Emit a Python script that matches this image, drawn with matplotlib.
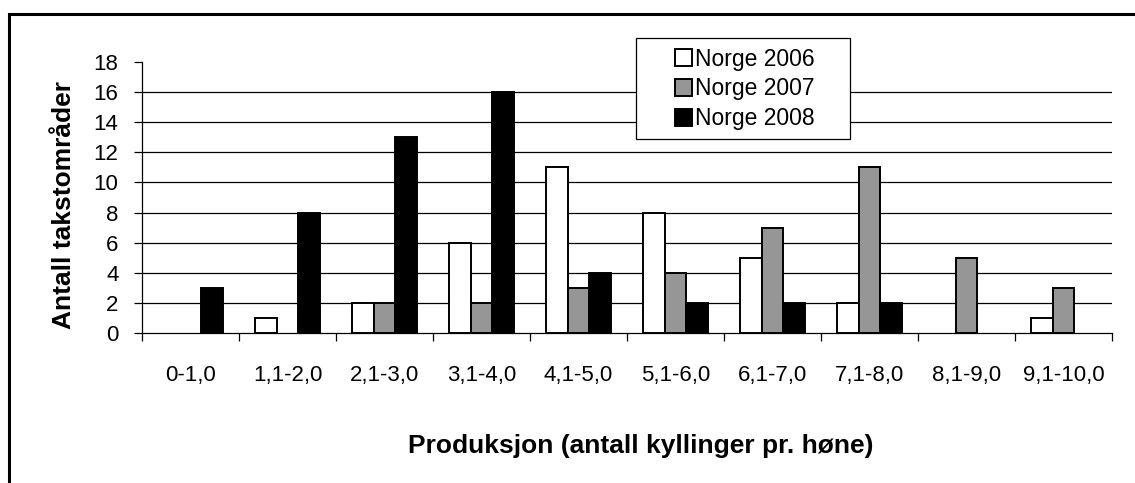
import numpy as np
import matplotlib.pyplot as plt
from matplotlib.patches import Rectangle

plt.rcParams['font.family'] = ['Liberation Sans', 'DejaVu Sans']

kategorier = ["0-1,0", "1,1-2,0", "2,1-3,0", "3,1-4,0", "4,1-5,0",
              "5,1-6,0", "6,1-7,0", "7,1-8,0", "8,1-9,0", "9,1-10,0"]
norge_2006 = [0, 1, 2, 6, 11, 8, 5, 2, 0, 1]
norge_2007 = [0, 0, 2, 2, 3, 4, 7, 11, 5, 3]
norge_2008 = [3, 8, 13, 16, 4, 2, 2, 2, 0, 0]
serier = ["Norge 2006", "Norge 2007", "Norge 2008"]
farger = ["white", "#969696", "black"]

W, H = 1135, 483
fig = plt.figure(figsize=(W / 100, H / 100), dpi=100)
fig.patch.set_facecolor('white')


def px(x, y):
    # pikselposisjon (fra øvre venstre hjørne) til figurkoordinater
    return x / W, 1 - y / H


# ytre ramme (går ut over høyre og nedre kant)
topp = 1 - 13.5 / H
fig.patches.append(Rectangle((8.5 / W, -0.2), 1.2, topp + 0.2,
                             transform=fig.transFigure, fill=False,
                             edgecolor='black', linewidth=2.2, zorder=0))

ax = fig.add_axes([142 / W, 1 - 333 / H, (1112 - 142) / W, (333 - 62) / H])

x = np.arange(len(kategorier))
bredde = 1 / 4.5
for i, (navn, verdier, farge) in enumerate(zip(serier, [norge_2006, norge_2007, norge_2008], farger)):
    # søyler med verdi 0 tegnes ikke
    kanter = ['black' if v > 0 else 'none' for v in verdier]
    fyll = [farge if v > 0 else 'none' for v in verdier]
    ax.bar(x + (i - 1) * bredde, verdier, width=bredde, color=fyll,
           edgecolor=kanter, linewidth=1.4, zorder=3)

ax.set_xlim(-0.5, len(kategorier) - 0.5)
ax.set_ylim(0, 18)
ax.set_yticks(range(0, 19, 2))
ax.set_xticks(x)
ax.set_xticklabels(kategorier)
ax.set_xticks(np.arange(-0.5, len(kategorier), 1), minor=True)

for y in range(2, 18, 2):
    ax.axhline(y, color='black', linewidth=0.9, zorder=1)

for side in ['top', 'right']:
    ax.spines[side].set_visible(False)
ax.spines['left'].set_linewidth(0.9)
ax.spines['bottom'].set_linewidth(0.9)
ax.spines['bottom'].set_zorder(4)

ax.tick_params(axis='y', length=6, width=0.9, labelsize=16, pad=11)
ax.tick_params(axis='x', which='major', length=0, labelsize=16, pad=23)
ax.tick_params(axis='x', which='minor', length=6, width=0.9)

fig.text(*px(64, 205), 'Antall takstområder', rotation=90,
         fontsize=19, fontweight='bold', ha='center', va='center')
fig.text(*px(641, 446), 'Produksjon (antall kyllinger pr. høne)',
         fontsize=19, fontweight='bold', ha='center', va='center')

# legende med egen ramme
fig.patches.append(Rectangle(px(636, 139), (850 - 636) / W, (139 - 38) / H,
                             transform=fig.transFigure, facecolor='white',
                             edgecolor='black', linewidth=0.9, zorder=5))
handles = [Rectangle((0, 0), 1, 1, facecolor=f, edgecolor='black', linewidth=1.4)
           for f in farger]
leg = fig.legend(handles, serier, loc='center', bbox_to_anchor=px(745, 89),
                 fontsize=16.5, frameon=False,
                 handlelength=0.72, handleheight=0.72, handletextpad=0.15,
                 borderpad=0, labelspacing=0.3, borderaxespad=0)
leg.set_zorder(6)

fig.savefig('out.png', dpi=100, facecolor='white')
